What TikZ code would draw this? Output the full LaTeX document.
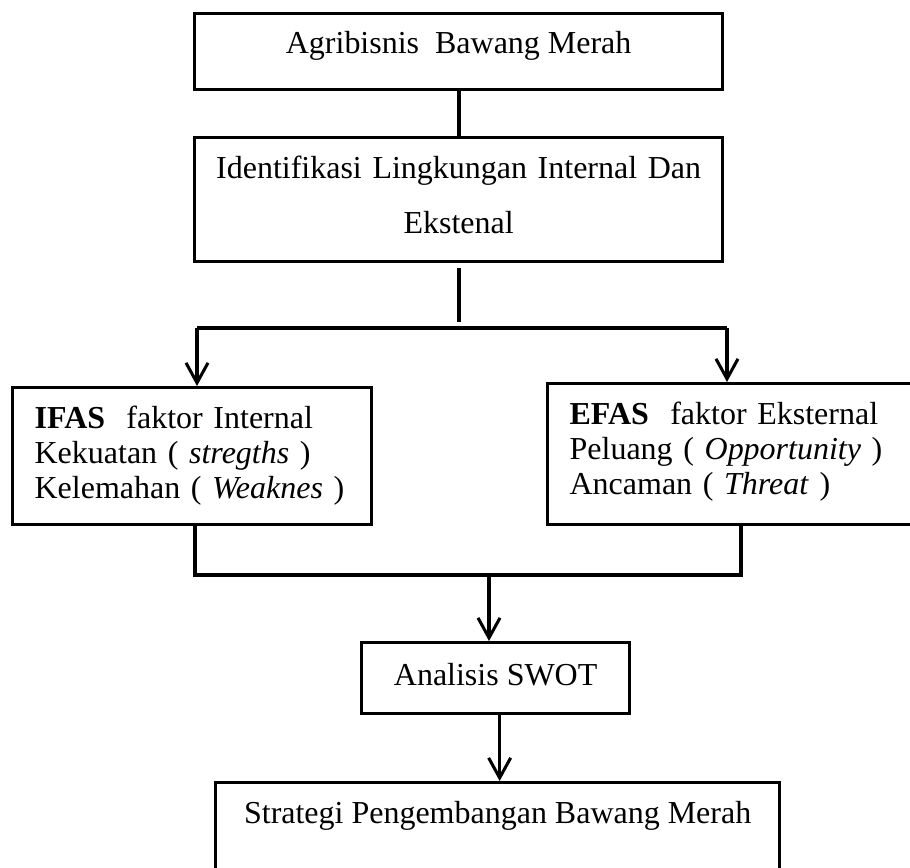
\documentclass[tikz,border=0pt]{standalone}
\usepackage{fontspec}
\setmainfont{Liberation Serif}
\usetikzlibrary{positioning, arrows.meta}
\tikzstyle{block} = [rectangle, draw, line width=2.8pt, inner sep=0pt,
                 anchor=north west]
\tikzstyle{branch} = [line width=3.4pt, draw]
\tikzset{
	flow/.style={line width=2.6pt,
		-{Straight Barb[length=0.6cm, width=0.66cm]}},
	factor/.style={block, align=left, inner xsep=0.66cm, text height=1.23cm},
}
\begin{document}
\begin{tikzpicture}[x=0.03cm, y=-0.03cm, font=\fontsize{27.3}{29.9}\selectfont]

\useasboundingbox (0,0) rectangle (910,868);
\clip (0,0) rectangle (910,868);

\node [block, minimum width=15.84cm, text height=1.2cm, text depth=1.08cm]
	(agri) at (193,12) {Agribisnis\ \ Bawang Merah};
\node [block, text width=15.84cm, text height=1.23cm, text depth=2.49cm,
	align=center, font=\fontsize{27.3}{46.9}\selectfont]
	(ident) at (193,136) {Identifikasi Lingkungan Internal Dan\\Ekstenal};

\node [factor, text width=9.45cm, text depth=2.88cm] (ifas) at (11,386)
	{\textbf{IFAS}\ \ faktor Internal\\Kekuatan ( \textit{stregths} )\\Kelemahan ( \textit{Weaknes} )};
\node [factor, text width=10.38cm, text depth=3cm] (efas) at (546,382)
	{\textbf{EFAS}\ \ faktor Eksternal\\Peluang ( \textit{Opportunity} )\\Ancaman ( \textit{Threat} )};

\node [block, minimum width=8.04cm, text height=1.29cm, text depth=0.84cm]
	(swot) at (360,641) {Analisis SWOT};
\node [block, minimum width=16.92cm, text height=1.23cm, text depth=2.34cm]
	(strat) at (214,781) {Strategi Pengembangan Bawang Merah};

	%split
\coordinate (splitA) at (459,268);
\coordinate (splitB) at (459,322);
\coordinate (hubL) at (197,328);
\coordinate (hubR) at (727,328);
	%join
\coordinate (joinL) at (195,575);
\coordinate (joinR) at (741,575);
\coordinate (joinM) at (489,575);

\path[branch] (agri.south) -- (ident.north);
\path[branch, line width=3.8pt] (splitA) -- (splitB);
\path[branch] (hubL) -- (hubR);
\draw[flow] (hubL) -- (hubL |- ifas.north);
\draw[flow] (hubR) -- (hubR |- efas.north);

\path[branch] (ifas.south -| joinL) -- (joinL) -- (joinR) -- (efas.south -| joinR);
\draw[flow] (joinM) -- (joinM |- swot.north);
\draw[flow] ([xshift=0.12cm]swot.south) -- ([xshift=0.12cm]swot.south |- strat.north);

\end{tikzpicture}
\end{document}
